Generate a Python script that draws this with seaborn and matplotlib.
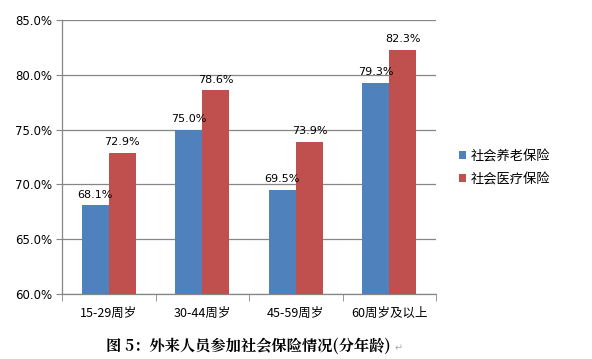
import matplotlib
matplotlib.use("Agg")
import matplotlib.pyplot as plt
import seaborn as sns
import pandas as pd
import numpy as np
from matplotlib.ticker import FixedLocator, PercentFormatter

# Données
categories = ["15-29周岁", "30-44周岁", "45-59周岁", "60周岁及以上"]
series_names = ["社会养老保险", "社会医疗保险"]
pension = [68.1, 75.0, 69.5, 79.3]
medical = [72.9, 78.6, 73.9, 82.3]
y_ticks = [60, 65, 70, 75, 80, 85]
caption = "图 5：外来人员参加社会保险情况(分年龄)"

colors = ["#4F81BD", "#C0504D"]

df = pd.DataFrame(
    {
        "age": categories * 2,
        "type": [series_names[0]] * 4 + [series_names[1]] * 4,
        "value": pension + medical,
    }
)

sns.set_style("white")
plt.rcParams["font.family"] = ["Noto Sans CJK SC", "DejaVu Sans"]
plt.rcParams["text.color"] = "black"
plt.rcParams["xtick.color"] = "black"
plt.rcParams["ytick.color"] = "black"

fig = plt.figure(figsize=(5.92, 3.59), dpi=100)
ax = fig.add_axes([0.1047, 0.181, 0.632, 0.763])

sns.barplot(
    data=df,
    x="age",
    y="value",
    hue="type",
    palette=colors,
    width=0.58,
    saturation=1,
    linewidth=0,
    ax=ax,
    zorder=3,
)

# Étiquettes des valeurs
for cont in ax.containers:
    ax.bar_label(cont, fmt="%.1f%%", padding=4, fontsize=8, family="DejaVu Sans")

ax.set_ylim(60, 85)
ax.set_xlim(-0.5, 3.5)
ax.yaxis.set_major_locator(FixedLocator(y_ticks))
ax.yaxis.set_major_formatter(PercentFormatter(decimals=1))
ax.grid(axis="y", color="#868686", linewidth=0.9, zorder=0)
ax.set_xlabel("")
ax.set_ylabel("")

for s in ["top", "right"]:
    ax.spines[s].set_visible(False)
for s in ["left", "bottom"]:
    ax.spines[s].set_color("#868686")
    ax.spines[s].set_linewidth(0.9)

ax.tick_params(axis="y", left=True, length=4, color="#868686", labelsize=8.5, pad=3,
               labelcolor="black")
ax.tick_params(axis="x", bottom=False, labelsize=9, pad=6, labelcolor="black")
ax.xaxis.set_minor_locator(FixedLocator([-0.5, 0.5, 1.5, 2.5, 3.5]))
ax.tick_params(axis="x", which="minor", bottom=True, length=5, color="#868686")
for lab in ax.get_yticklabels():
    lab.set_family("DejaVu Sans")

leg = ax.legend(
    loc="center left",
    bbox_to_anchor=(1.03, 0.46),
    frameon=False,
    fontsize=9.5,
    handlelength=0.55,
    handleheight=0.55,
    handletextpad=0.3,
    labelspacing=0.75,
)

fig.text(
    0.42, 0.035, caption, ha="center", va="center", fontsize=11,
    fontweight="bold", family=["Noto Serif CJK SC", "Noto Sans CJK SC", "DejaVu Sans"],
)
fig.text(0.666, 0.03, "↵", ha="left", va="center", fontsize=7, color="#aaaaaa",
         family="DejaVu Sans")

fig.savefig("out.png", dpi=100)
